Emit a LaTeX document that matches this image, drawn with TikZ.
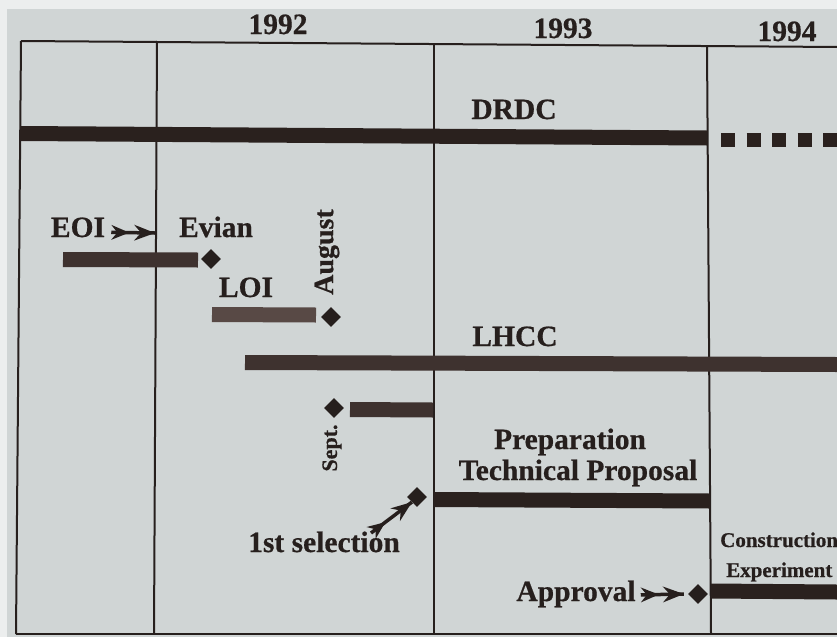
\documentclass[tikz,border=0pt]{standalone}
\usepackage{fontspec}
\setmainfont{Liberation Serif}[BoldFeatures={FakeBold=0.6}]
\usetikzlibrary{shapes.geometric,decorations.markings}
\definecolor{paper}{RGB}{208,213,213}
\definecolor{margin}{RGB}{236,238,238}
\definecolor{ink}{RGB}{38,31,29}
\definecolor{bardark}{RGB}{42,33,30}
\definecolor{barmid}{RGB}{62,50,47}
\definecolor{barlight}{RGB}{88,73,69}
\begin{document}
\begin{tikzpicture}[x=1pt,y=-1pt,
  lbl/.style={font=\fontsize{29.5}{31}\selectfont\bfseries, text=ink, inner sep=0pt, anchor=base},
  rlbl/.style={font=\fontsize{#1}{30}\selectfont\bfseries, text=ink, inner sep=0pt, anchor=center, rotate=90},
  smalllbl/.style={font=\fontsize{21}{23}\selectfont\bfseries, text=ink, inner sep=0pt, anchor=base west},
  frameline/.style={draw=ink, line width=2pt},
  darkbar/.style={draw=bardark, line width=15pt},
  midbar/.style={draw=barmid, line width=15pt},
  lightbar/.style={draw=barlight, line width=15pt},
  dia/.style={diamond, fill=ink, inner sep=0pt, minimum width=20pt, minimum height=20pt},
  farrow/.style={draw=ink, line width=3.5pt, postaction={decorate},
    decoration={markings,
      mark=at position 0 with {\fill[ink] (18pt,0pt) -- (0pt,7.5pt) -- (6pt,0pt) -- (0pt,-7.5pt) -- cycle;},
      mark=at position 1 with {\fill[ink] (0pt,0pt) -- (-21pt,8pt) -- (-14pt,0pt) -- (-21pt,-8pt) -- cycle;}}}
]
% background
\fill[margin] (0,0) rectangle (837,637);
\fill[paper] (7,9) rectangle (837,637);
\useasboundingbox (0,0) rectangle (837,637);

% frame
\coordinate (tl) at (21,41);
\coordinate (tr) at (837,47);
\coordinate (bl) at (16,634);
\coordinate (br) at (837,634);
\coordinate (v1t) at (157,41);
\coordinate (v1b) at (154,634);
\coordinate (v2t) at (434,43);
\coordinate (v2b) at (434,634);
\coordinate (v3t) at (707,46);
\coordinate (v3b) at (711,634);
\draw[frameline] (tl) -- (tr);
\draw[frameline] (bl) -- (br);
\draw[frameline] (tl) -- (bl);
\draw[frameline] (v1t) -- (v1b);
\draw[frameline] (v2t) -- (v2b);
\draw[frameline] (v3t) -- (v3b);

% years
\node[lbl] (y92) at (278,34) {1992};
\node[lbl] (y93) at (563,38) {1993};
\node[lbl] (y94) at (787,41) {1994};

% DRDC
\node[lbl] (drdc) at (514,119) {DRDC};
\coordinate (drdcA) at (20,133.5);
\coordinate (drdcB) at (707,138);
\coordinate (drdcC) at (721,140);
\coordinate (drdcD) at (837,140);
\draw[darkbar] (drdcA) -- (drdcB);
\draw[draw=bardark, line width=14pt, dash pattern=on 14pt off 11.5pt] (drdcC) -- (drdcD);

% EOI / Evian
\node[lbl] (eoi) at (78,237) {EOI};
\node[lbl] (evian) at (216,237) {Evian};
\coordinate (eoiB) at (155,233);
\draw[farrow] ([xshift=6pt,yshift=-5pt]eoi.east) -- (eoiB);
\coordinate (eoibarA) at (63,259.5);
\coordinate (eoibarB) at (198,260);
\draw[midbar] (eoibarA) -- (eoibarB);
\node[dia] (devian) at (211,259) {};

% LOI / August
\node[lbl] (loi) at (246,297) {LOI};
\node[rlbl=28] (aug) at (327,252) {August};
\coordinate (loibarA) at (212,314.5);
\coordinate (loibarB) at (316,315);
\draw[lightbar] (loibarA) -- (loibarB);
\node[dia] (daug) at (331,317) {};

% LHCC
\node[lbl] (lhcc) at (515,346) {LHCC};
\coordinate (lhccA) at (245,362.5);
\coordinate (lhccB) at (837,364.5);
\draw[midbar] (lhccA) -- (lhccB);

% Sept.
\node[dia] (dsept) at (334,408) {};
\coordinate (septA) at (350,409.5);
\coordinate (septB) at (433,410);
\draw[midbar] (septA) -- (septB);
\node[rlbl=22] (sept) at (332,448) {Sept.};

% Technical proposal
\node[lbl] (prep) at (570,449) {Preparation};
\node[lbl] (tp) at (578,480) {Technical Proposal};
\node[dia] (d1st) at (417,497) {};
\coordinate (tpA) at (434,499.5);
\coordinate (tpB) at (710,501);
\draw[darkbar] (tpA) -- (tpB);
\node[lbl] (sel) at (324,552) {1st selection};
\coordinate (selA) at (371,533);
\draw[farrow] (selA) -- (d1st.south west);

% Approval / Construction
\node[lbl] (appr) at (576,601) {Approval};
\node[dia] (dappr) at (698,594) {};
\draw[farrow] ([xshift=5pt,yshift=-1pt]appr.east) -- ([xshift=-4pt]dappr.west);
\coordinate (conA) at (711,591);
\coordinate (conB) at (837,592);
\draw[darkbar] (conA) -- (conB);
\node[smalllbl] (constr) at (720,547) {Construction};
\node[smalllbl] (exper) at (726,577) {Experiment};
\end{tikzpicture}
\end{document}
